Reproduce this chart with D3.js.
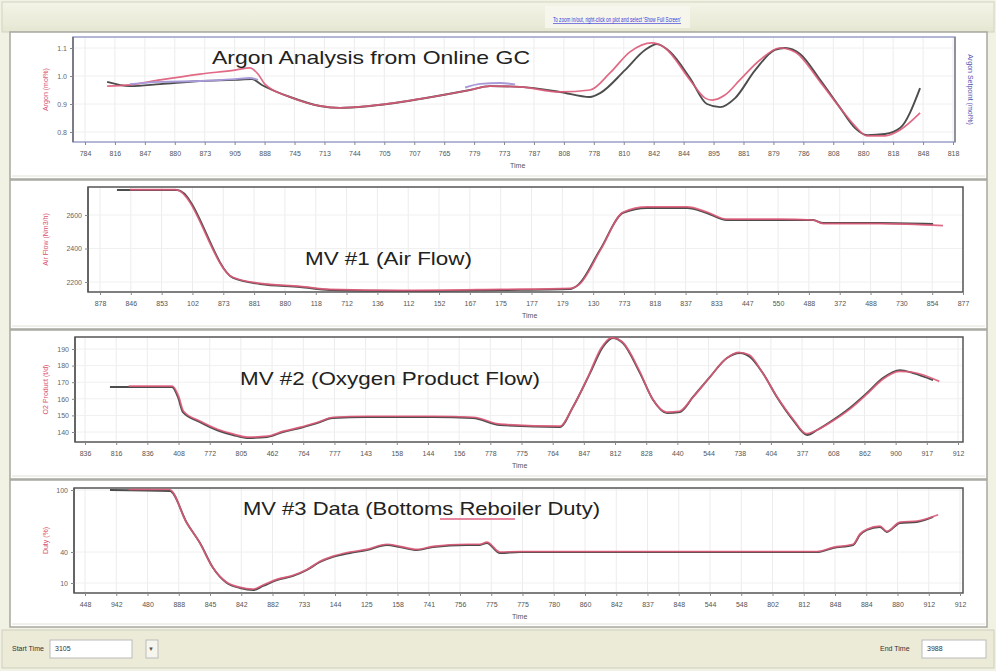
<!DOCTYPE html>
<html><head><meta charset="utf-8">
<script src="https://cdn.jsdelivr.net/npm/d3@7"></script>
<style>
html,body{margin:0;padding:0;background:#f3f3e8;}
svg{display:block;font-family:Arial,"Liberation Sans",sans-serif;}
</style></head>
<body>
<svg id="chart" width="996" height="671"></svg>
<script>
// ---------------- DATA ----------------
const argonTicks = ["784","816","847","880","873","905","888","745","713","744","705","707","765","779","773","787","808","778","810","842","844","895","881","879","786","808","880","818","848","818"];
const airTicks   = ["878","846","853","102","873","881","880","118","712","136","112","152","167","175","177","179","130","773","818","837","833","447","550","488","372","488","730","854","877"];
const oxyTicks   = ["836","816","836","408","772","805","462","764","777","143","158","144","156","778","775","764","847","812","828","440","544","738","404","377","608","862","900","917","912"];
const rebTicks   = ["448","942","480","888","845","842","882","733","144","125","158","741","756","775","775","780","860","842","837","848","544","548","802","812","848","884","880","912","912"];

const argonYTicks = [0.8, 0.9, 1.0, 1.1];
const airYTicks   = [2200, 2400, 2600];
const oxyYTicks   = [140, 150, 160, 170, 180, 190];
const rebYTicks   = [10, 40, 100];

// Argon analysis (x = tick index, y = mol %)
const argonDarkX = [0.74,1.50,2.51,3.84,5.01,5.58,5.91,6.85,7.85,8.52,9.52,11.19,12.86,13.53,14.53,15.87,16.87,17.21,18.04,18.71,19.11,19.55,20.21,20.78,21.22,21.72,22.39,23.05,23.39,23.89,24.56,25.23,25.73,26.13,26.73,27.23,27.90];
const argonDarkY = [0.979,0.964,0.971,0.982,0.986,0.989,0.968,0.925,0.893,0.886,0.893,0.918,0.950,0.964,0.961,0.943,0.925,0.939,1.021,1.093,1.114,1.086,0.993,0.900,0.889,0.921,1.021,1.093,1.100,1.079,0.986,0.886,0.814,0.789,0.793,0.814,0.957];
const argonRedX  = [0.74,1.50,2.51,3.84,5.01,5.51,5.78,6.01,6.85,7.85,8.52,9.52,11.19,12.86,13.53,14.53,15.87,16.87,17.54,18.21,18.94,19.38,20.21,20.72,20.95,21.38,21.88,22.55,23.22,23.72,24.56,25.23,25.73,26.13,26.73,27.23,27.90];
const argonRedY  = [0.964,0.968,0.986,1.007,1.021,1.029,1.007,0.971,0.925,0.893,0.886,0.893,0.918,0.950,0.964,0.961,0.943,0.950,1.011,1.086,1.118,1.100,0.986,0.921,0.914,0.932,0.986,1.057,1.100,1.086,0.979,0.886,0.821,0.786,0.786,0.807,0.868];
const argonPurpleX = [1.50,2.51,3.84,5.01,5.51,5.78,null,12.70,13.20,13.87,14.37];
const argonPurpleY = [0.971,0.979,0.982,0.989,0.993,0.986,null,0.959,0.972,0.975,0.970];

// MV #1 Air flow
const airDarkX = [0.55,2.50,4.32,5.19,6.49,7.46,9.73,12.98,15.25,15.51,16.22,16.97,17.75,19.05,19.69,20.34,22.06,23.13,23.46,25.31,27.03];
const airDarkY = [2749,2749,2224,2188,2170,2152,2146,2152,2158,2182,2391,2612,2642,2642,2612,2570,2570,2570,2552,2552,2546];
const airRedX  = [0.97,2.45,4.30,5.19,6.49,7.46,9.73,12.98,15.25,15.55,16.25,16.97,17.75,19.05,19.69,20.34,22.06,23.13,23.46,25.31,27.35];
const airRedY  = [2752,2752,2228,2192,2174,2156,2150,2156,2162,2186,2395,2616,2648,2648,2618,2575,2575,2570,2548,2548,2536];

// MV #2 Oxygen product flow
const oxyDarkX = [0.80,2.79,2.98,3.14,3.69,4.23,4.75,5.20,5.84,6.35,6.90,7.44,7.95,9.04,11.16,12.44,13.31,15.23,15.65,16.20,16.61,16.93,17.25,17.80,18.22,18.67,19.08,19.50,20.04,20.59,21.01,21.33,21.74,22.19,22.71,23.16,23.48,23.99,24.53,25.08,25.59,26.14,26.56,27.20];
const oxyDarkY = [167.1,167.1,161.1,152.0,146.0,141.2,138.2,136.4,137.0,140.0,142.4,145.4,148.4,149.0,149.0,148.4,144.2,143.0,155.1,175.5,191.2,196.6,193.6,175.5,159.3,151.4,152.0,161.1,173.1,184.6,187.6,185.2,175.5,161.1,147.2,138.2,141.2,147.2,154.5,163.5,172.5,177.3,175.5,171.3];
const oxyRedX  = [1.40,2.80,3.00,3.16,3.70,4.25,4.77,5.22,5.86,6.37,6.92,7.46,7.97,9.06,11.18,12.46,13.33,15.25,15.62,16.15,16.55,16.90,17.22,17.78,18.20,18.65,19.06,19.48,20.02,20.55,20.95,21.30,21.72,22.17,22.70,23.14,23.46,23.97,24.51,25.06,25.57,26.12,26.54,27.40];
const oxyRedY  = [167.6,167.6,161.6,152.5,146.5,141.7,138.7,136.9,137.5,140.5,142.9,145.9,148.9,149.5,149.5,148.9,144.7,143.5,154.0,174.0,190.5,196.8,194.5,177.0,160.0,152.0,152.5,160.5,172.5,184.0,188.0,186.5,176.0,162.0,148.0,139.0,141.0,146.5,153.5,162.5,171.5,176.5,176.0,170.5];

// MV #3 Bottoms reboiler duty
const rebDarkX = [0.80,2.72,3.26,3.68,4.10,4.54,4.96,5.38,5.70,6.14,6.66,7.10,7.52,7.94,8.48,9.02,9.66,10.08,10.62,11.14,12.22,12.64,12.86,13.28,13.92,23.42,23.94,24.58,24.80,25.02,25.44,25.66,26.08,26.62,27.14];
const rebDarkY = [100.0,99.0,68.1,48.7,24.5,10.0,5.2,3.2,7.1,12.9,16.8,22.6,30.3,35.2,39.0,41.9,46.8,44.8,41.9,44.8,46.8,46.8,48.7,39.0,40.0,40.0,43.9,46.8,56.5,61.3,64.2,59.4,68.1,69.0,73.9];
const rebRedX  = [1.40,2.70,3.24,3.66,4.08,4.52,4.94,5.36,5.70,6.14,6.66,7.10,7.52,7.94,8.48,9.02,9.66,10.08,10.62,11.14,12.22,12.64,12.86,13.28,13.92,23.42,23.94,24.58,24.80,25.02,25.44,25.66,26.08,26.62,27.30];
const rebRedY  = [100.5,100.5,69.0,49.5,25.5,11.0,6.0,4.0,8.0,13.5,17.5,23.0,31.0,36.0,40.0,42.5,47.5,45.5,42.5,45.5,47.5,47.5,49.5,40.0,40.5,40.5,44.5,47.5,57.5,62.0,65.0,60.0,69.0,70.0,76.0];

// ---------------- CHART ----------------
const svg = d3.select("#chart");
const W = 996, H = 671;
const DARK = "#4d4d4d", RED = "#dd5a78", PURPLE = "#a89ad8";

svg.append("rect").attr("x",0).attr("y",0).attr("width",W).attr("height",H).attr("fill","#f1f1e4");
const defs = svg.append("defs");
const topGrad = defs.append("linearGradient").attr("id","tg").attr("x1",0).attr("y1",0).attr("x2",0).attr("y2",1);
topGrad.append("stop").attr("offset","0%").attr("stop-color","#f4f4e8");
topGrad.append("stop").attr("offset","100%").attr("stop-color","#e6e7d2");
svg.append("rect").attr("x",2).attr("y",2).attr("width",W-4).attr("height",30).attr("fill","url(#tg)").attr("stroke","#d4d4c0");
svg.append("rect").attr("x",545).attr("y",6).attr("width",145).attr("height",22).attr("fill","#f8f8f0").attr("opacity",0.8);
svg.append("text").attr("x",553).attr("y",22)
  .attr("font-size",6.5).attr("fill","#3a3adc").attr("text-decoration","underline")
  .attr("textLength",128).attr("lengthAdjust","spacingAndGlyphs")
  .text("To zoom in/out, right-click on plot and select 'Show Full Screen'");

const panels = [
  {sec:[32,179], frame:[73,955,37,142], x:[85,953,29], y:argonYTicks, yr:[132,48], ticks:argonTicks, fmt:d3.format(".1f"),
   title:"Argon Analysis from Online GC", tpos:[212,64,318], ytitle:"Argon (mol%)", ytx:48, timeX:510,
   series:[[argonDarkX,argonDarkY,DARK],[argonRedX,argonRedY,RED],[argonPurpleX,argonPurpleY,PURPLE]], frameCol:"#9aa0c8"},
  {sec:[180,329], frame:[88,963,187,292], x:[100,963,28], y:airYTicks, yr:[282,215], ticks:airTicks, fmt:d3.format("d"),
   title:"MV #1 (Air Flow)", tpos:[305,265,167], ytitle:"Air Flow (Nm3/h)", ytx:48, timeX:522,
   series:[[airDarkX,airDarkY,DARK],[airRedX,airRedY,RED]], frameCol:"#555"},
  {sec:[330,479], frame:[75,963,337,442], x:[85,958,28], y:oxyYTicks, yr:[432,349], ticks:oxyTicks, fmt:d3.format("d"),
   title:"MV #2 (Oxygen Product Flow)", tpos:[240,385,300], ytitle:"O2 Product (t/d)", ytx:48, timeX:512,
   series:[[oxyDarkX,oxyDarkY,DARK],[oxyRedX,oxyRedY,RED]], frameCol:"#555"},
  {sec:[480,627], frame:[74,963,488,593], x:[85,960,28], y:rebYTicks, yr:[583,490], ticks:rebTicks, fmt:d3.format("d"),
   title:"MV #3 Data (Bottoms Reboiler Duty)", tpos:[243,515,357], ytitle:"Duty (%)", ytx:48, timeX:512,
   series:[[rebDarkX,rebDarkY,DARK],[rebRedX,rebRedY,RED]], frameCol:"#555"}
];

panels.forEach((p,i)=>{
  const g = svg.append("g");
  const [sy0,sy1] = p.sec;
  g.append("rect").attr("x",10).attr("y",sy0).attr("width",977).attr("height",sy1-sy0)
    .attr("fill","#ffffff").attr("stroke","#a8a8a0").attr("stroke-width",1.5);
  g.append("line").attr("x1",12).attr("x2",985).attr("y1",sy1-3).attr("y2",sy1-3).attr("stroke","#e2e2d8");
  const [fx0,fx1,fy0,fy1] = p.frame;
  const x = d3.scaleLinear().domain([0,p.x[2]]).range([p.x[0],p.x[1]]);
  const y = d3.scaleLinear().domain([p.y[0],p.y[p.y.length-1]]).range(p.yr);
  g.append("g").selectAll("line").data(d3.range(p.ticks.length)).join("line")
    .attr("x1",d=>x(d)).attr("x2",d=>x(d)).attr("y1",fy0).attr("y2",fy1)
    .attr("stroke","#ececec").attr("stroke-width",1);
  g.append("g").selectAll("line").data(p.y).join("line")
    .attr("x1",fx0).attr("x2",fx1).attr("y1",d=>y(d)).attr("y2",d=>y(d))
    .attr("stroke","#f0f0f0");
  g.append("rect").attr("x",fx0).attr("y",fy0).attr("width",fx1-fx0).attr("height",fy1-fy0)
    .attr("fill","none").attr("stroke",p.frameCol).attr("stroke-width",1.5);
  g.append("line").attr("x1",fx0).attr("x2",fx0).attr("y1",fy0).attr("y2",fy1).attr("stroke","#555").attr("stroke-width",1.2);
  if(i===0){
    g.append("line").attr("x1",fx1).attr("x2",fx1).attr("y1",fy0).attr("y2",fy1).attr("stroke","#777").attr("stroke-width",1.2);
  }
  const xa = d3.axisBottom(x).tickValues(d3.range(p.ticks.length)).tickFormat(d=>p.ticks[d]).tickSize(3).tickPadding(6);
  const xg = g.append("g").attr("transform",`translate(0,${fy1})`).call(xa);
  xg.select(".domain").remove();
  xg.selectAll("line").attr("stroke","#888");
  xg.selectAll("text").attr("font-size",7).attr("fill","#555").attr("font-family","Arial");
  g.append("text").attr("x",p.timeX).attr("y",fy1+26).attr("font-size",7).attr("fill","#555").text("Time");
  const ya = d3.axisLeft(y).tickValues(p.y).tickFormat(p.fmt).tickSize(3).tickPadding(3);
  const yg = g.append("g").attr("transform",`translate(${fx0},0)`).call(ya);
  yg.select(".domain").remove();
  yg.selectAll("line").attr("stroke","#888");
  yg.selectAll("text").attr("font-size",7).attr("fill","#666").attr("font-family","Arial");
  g.append("text").attr("transform",`translate(${p.ytx},${(fy0+fy1)/2}) rotate(-90)`)
    .attr("text-anchor","middle").attr("font-size",7).attr("fill","#d8506e").text(p.ytitle);
  defs.append("clipPath").attr("id","c"+i).append("rect")
    .attr("x",fx0).attr("y",fy0).attr("width",fx1-fx0).attr("height",fy1-fy0);
  const lg = g.append("g").attr("clip-path",`url(#c${i})`);
  p.series.forEach(([xs,ys,col])=>{
    const pts = xs.map((v,k)=>[v,ys[k]]);
    const line = d3.line().defined(d=>d[0]!==null).x(d=>x(d[0])).y(d=>y(d[1])).curve(d3.curveMonotoneX);
    lg.append("path").datum(pts).attr("d",line).attr("fill","none")
      .attr("stroke",col).attr("stroke-width",col===RED?1.7:1.9).attr("stroke-opacity",col===RED?0.9:1)
      .attr("stroke-linejoin","round");
  });
  g.append("text").attr("x",p.tpos[0]).attr("y",p.tpos[1]).attr("font-size",19).attr("fill","#222")
    .attr("textLength",p.tpos[2]).attr("lengthAdjust","spacingAndGlyphs").text(p.title);
  if(i===0){
    g.append("text").attr("transform",`translate(968,${(fy0+fy1)/2}) rotate(90)`)
      .attr("text-anchor","middle").attr("font-size",7).attr("fill","#5050b0").text("Argon Setpoint (mol%)");
  }
  if(i===3){
    g.append("line").attr("x1",440).attr("x2",515).attr("y1",519).attr("y2",519).attr("stroke","#e06080").attr("stroke-width",1.5);
  }
});

svg.append("rect").attr("x",2).attr("y",630).attr("width",W-4).attr("height",38).attr("fill","#ecebd8").attr("stroke","#cfcfbe");
svg.append("text").attr("x",12).attr("y",651).attr("font-size",7).attr("fill","#333").text("Start Time");
svg.append("rect").attr("x",50).attr("y",640).attr("width",82).attr("height",18).attr("fill","#fff").attr("stroke","#bbb");
svg.append("text").attr("x",55).attr("y",651).attr("font-size",7).attr("fill","#333").text("3105");
svg.append("rect").attr("x",146).attr("y",640).attr("width",12).attr("height",18).attr("fill","#f6f6ee").attr("stroke","#bbb");
svg.append("text").attr("x",148).attr("y",651).attr("font-size",6).attr("fill","#555").text("▼");
svg.append("text").attr("x",880).attr("y",651).attr("font-size",7).attr("fill","#333").text("End Time");
svg.append("rect").attr("x",922).attr("y",640).attr("width",64).attr("height",18).attr("fill","#fff").attr("stroke","#bbb");
svg.append("text").attr("x",927).attr("y",651).attr("font-size",7).attr("fill","#333").text("3988");
</script>
</body></html>
